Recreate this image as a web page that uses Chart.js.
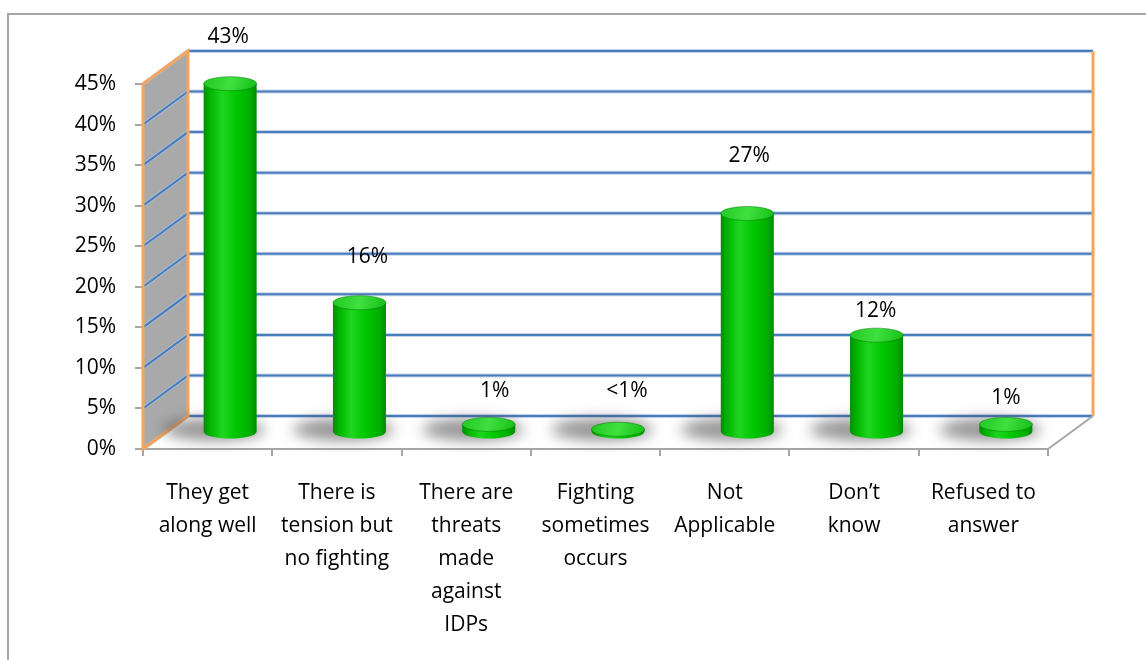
<!DOCTYPE html>
<html>
<head>
<meta charset="utf-8">
<script src="https://cdn.jsdelivr.net/npm/chart.js@4"></script>
<style>
  html, body { margin: 0; padding: 0; background: #fff; }
  canvas { display: block; }
</style>
</head>
<body>
<canvas id="chart" width="1146" height="660"></canvas>
<script>
// answers, one label line per entry
const categories = [
    ['They get', 'along well'],
    ['There is', 'tension but', 'no fighting'],
    ['There are', 'threats', 'made', 'against', 'IDPs'],
    ['Fighting', 'sometimes', 'occurs'],
    ['Not', 'Applicable'],
    ['Don’t', 'know'],
    ['Refused to', 'answer']
];

// share of respondents, in percent
const percents = [43, 16, 1, 0.4, 27, 12, 1];

// y axis ticks
const yTickValues = [0, 5, 10, 15, 20, 25, 30, 35, 40, 45];

// small nudges for the value labels (dx, dy from the top of each cylinder)
const labelShift = [[-2, -47], [8, -46], [6, -33], [9, -38], [2, -57], [-1, -24], [0, -26]];

// depth of the 3d box
const DEPTH_X = 45;
const DEPTH_Y = -33;

const FONT = '"Open Sans", sans-serif';

function valueText(v) {
    return v < 1 ? '<1%' : Math.round(v) + '%';
}

function drawCylinder(ctx, cx, top, base, r) {
    const ry = 7;
    const body = ctx.createLinearGradient(cx - r, 0, cx + r, 0);
    body.addColorStop(0, '#008c00');
    body.addColorStop(0.12, '#00b400');
    body.addColorStop(0.35, '#1fd61f');
    body.addColorStop(0.6, '#00c800');
    body.addColorStop(0.88, '#00ae00');
    body.addColorStop(1, '#008a00');

    ctx.beginPath();
    ctx.moveTo(cx - r, top);
    ctx.lineTo(cx - r, base);
    ctx.ellipse(cx, base, r, ry, 0, Math.PI, 0, true);
    ctx.lineTo(cx + r, top);
    ctx.closePath();
    ctx.fillStyle = body;
    ctx.fill();

    const cap = ctx.createLinearGradient(cx - r, top - ry, cx + r, top + ry);
    cap.addColorStop(0, '#22c822');
    cap.addColorStop(0.5, '#3fe03f');
    cap.addColorStop(1, '#16be16');
    ctx.beginPath();
    ctx.ellipse(cx, top, r, ry, 0, 0, Math.PI * 2);
    ctx.fillStyle = cap;
    ctx.fill();
    ctx.strokeStyle = 'rgba(0,120,0,0.5)';
    ctx.lineWidth = 1;
    ctx.stroke();
}

const box3d = {
    id: 'box3d',
    beforeDraw(chart) {
        const ctx = chart.ctx;
        ctx.save();
        ctx.fillStyle = '#fff';
        ctx.fillRect(0, 0, chart.width, chart.height);
        ctx.strokeStyle = '#a6a6a6';
        ctx.lineWidth = 2;
        ctx.strokeRect(8, 14, chart.width + 20, chart.height + 20);
        ctx.restore();
    },
    beforeDatasetsDraw(chart) {
        const ctx = chart.ctx;
        const a = chart.chartArea;
        const y = chart.scales.y;
        const dx = DEPTH_X, dy = DEPTH_Y;
        ctx.save();

        // left side wall
        ctx.beginPath();
        ctx.moveTo(a.left, a.top);
        ctx.lineTo(a.left + dx, a.top + dy);
        ctx.lineTo(a.left + dx, a.bottom + dy);
        ctx.lineTo(a.left, a.bottom);
        ctx.closePath();
        ctx.fillStyle = '#a9a9a9';
        ctx.fill();

        // gridlines across side wall and back wall
        y.ticks.forEach(t => {
            const py = y.getPixelForValue(t.value);
            ctx.beginPath();
            ctx.moveTo(a.left, py);
            ctx.lineTo(a.left + dx, py + dy);
            ctx.lineTo(a.right + dx, py + dy);
            ctx.strokeStyle = 'rgba(170,195,230,0.7)';
            ctx.lineWidth = 4;
            ctx.stroke();
            ctx.strokeStyle = '#4b7cba';
            ctx.lineWidth = 2;
            ctx.stroke();
        });

        // orange outline of the side wall and back wall edge
        ctx.strokeStyle = '#f6a55c';
        ctx.lineWidth = 3;
        ctx.beginPath();
        ctx.moveTo(a.left, a.top);
        ctx.lineTo(a.left + dx, a.top + dy);
        ctx.lineTo(a.left + dx, a.bottom + dy);
        ctx.lineTo(a.left, a.bottom);
        ctx.closePath();
        ctx.stroke();
        ctx.beginPath();
        ctx.moveTo(a.right + dx, a.top + dy);
        ctx.lineTo(a.right + dx, a.bottom + dy);
        ctx.stroke();

        // right edge of the floor
        ctx.strokeStyle = '#a6a6a6';
        ctx.lineWidth = 2;
        ctx.beginPath();
        ctx.moveTo(a.right, a.bottom);
        ctx.lineTo(a.right + dx, a.bottom + dy);
        ctx.stroke();
        ctx.restore();
    },
    afterDatasetsDraw(chart) {
        const ctx = chart.ctx;
        const meta = chart.getDatasetMeta(0);
        const hx = DEPTH_X / 2, hy = DEPTH_Y / 2;

        // soft shadows on the floor, falling back and to the left
        meta.data.forEach(bar => {
            const cx = bar.x + hx, base = bar.base + hy;
            ctx.save();
            ctx.filter = 'blur(7px)';
            ctx.fillStyle = 'rgba(60,60,60,0.55)';
            ctx.beginPath();
            ctx.ellipse(cx - 16, base - 2, bar.width * 0.95, 11, 0, 0, Math.PI * 2);
            ctx.fill();
            ctx.restore();
        });

        meta.data.forEach(bar => {
            ctx.save();
            drawCylinder(ctx, bar.x + hx, bar.y + hy, bar.base + hy, bar.width / 2);
            ctx.restore();
        });

        // value labels
        ctx.save();
        ctx.font = '21px ' + FONT;
        ctx.fillStyle = '#000';
        ctx.textAlign = 'center';
        ctx.textBaseline = 'middle';
        meta.data.forEach((bar, i) => {
            const s = labelShift[i];
            ctx.fillText(valueText(percents[i]), bar.x + hx + s[0], bar.y + hy + s[1]);
        });
        ctx.restore();
    }
};

new Chart(document.getElementById('chart'), {
    type: 'bar',
    data: {
        labels: categories,
        datasets: [{
            data: percents,
            backgroundColor: 'rgba(0,0,0,0)',
            borderWidth: 0,
            barPercentage: 0.41,
            categoryPercentage: 1
        }]
    },
    options: {
        responsive: false,
        animation: false,
        layout: { padding: { left: 0, top: 84, right: 98, bottom: 0 } },
        plugins: {
            legend: { display: false },
            tooltip: { enabled: false }
        },
        scales: {
            x: {
                afterFit(scale) { scale.height = 211; },
                grid: {
                    offset: true,
                    drawOnChartArea: false,
                    drawTicks: true,
                    tickLength: 7,
                    color: '#a6a6a6',
                    lineWidth: 2
                },
                border: { display: true, color: '#a6a6a6', width: 2 },
                ticks: {
                    autoSkip: false,
                    maxRotation: 0,
                    padding: 21,
                    color: '#000',
                    font: { family: FONT, size: 21, lineHeight: 1.57 }
                }
            },
            y: {
                min: 0,
                max: 45,
                afterFit(scale) { scale.width = 143; },
                afterBuildTicks(scale) {
                    scale.ticks = yTickValues.map(v => ({ value: v }));
                },
                grid: {
                    drawOnChartArea: false,
                    drawTicks: true,
                    tickLength: 8,
                    color: '#a6a6a6',
                    lineWidth: 2
                },
                border: { display: false },
                ticks: {
                    padding: 19,
                    color: '#000',
                    font: { family: FONT, size: 21 },
                    callback: v => v + '%'
                }
            }
        }
    },
    plugins: [box3d]
});
</script>
</body>
</html>
